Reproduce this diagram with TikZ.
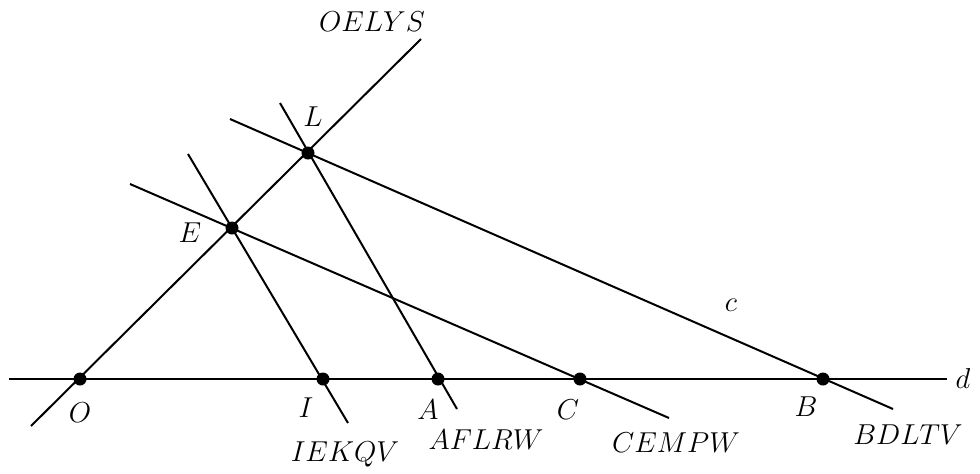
\documentclass[tikz,border=0pt]{standalone}
\begin{document}
\begin{tikzpicture}[x=0.5pt,y=-0.5pt,line width=1pt,
  dot/.style={circle,fill=black,inner sep=0pt,minimum size=6.5pt},
  lbl/.style={inner sep=0pt,anchor=base,font=\fontsize{13.5}{16}\selectfont}]
\useasboundingbox (0,0) rectangle (980,473);
% line end points
\coordinate (dL) at (9,379);   \coordinate (dR) at (947,379);
\coordinate (o1) at (31,426);  \coordinate (o2) at (421,39);
\coordinate (i1) at (188,154); \coordinate (i2) at (348,423);
\coordinate (a1) at (280,103); \coordinate (a2) at (457,409);
\coordinate (c1) at (130,184); \coordinate (c2) at (669,418);
\coordinate (b1) at (230,119); \coordinate (b2) at (893,409);
% lines
\draw (dL) -- (dR);
\draw (o1) -- (o2);
\draw (i1) -- (i2);
\draw (a1) -- (a2);
\draw (c1) -- (c2);
\draw (b1) -- (b2);
% points
\node[dot] (O) at (80,379) {};
\node[dot] (I) at (323,379) {};
\node[dot] (A) at (438,379) {};
\node[dot] (C) at (580,379) {};
\node[dot] (B) at (823,379) {};
\node[dot] (E) at (232,228) {};
\node[dot] (L) at (308,153) {};
% labels
\node[lbl] (lO) at (80,422) {$O$};
\node[lbl] (lI) at (306,417) {$I$};
\node[lbl] (lA) at (428,419) {$A$};
\node[lbl] (lC) at (568,419) {$C$};
\node[lbl] (lB) at (806,416) {$B$};
\node[lbl] (lE) at (190,242) {$E$};
\node[lbl] (lL) at (313,126) {$L$};
\node[lbl] (ld) at (963,388) {$d$};
\node[lbl] (lc) at (731,311) {$c$};
\node[lbl] (lOELYS) at (372,31) {$OELYS$};
\node[lbl] (lIEKQV) at (345,461) {$IEKQV$};
\node[lbl] (lAFLRW) at (486,449) {$AFLRW$};
\node[lbl] (lCEMPW) at (676,452) {$CEMPW$};
\node[lbl] (lBDLTV) at (908,444) {$BDLTV$};
\end{tikzpicture}
\end{document}
